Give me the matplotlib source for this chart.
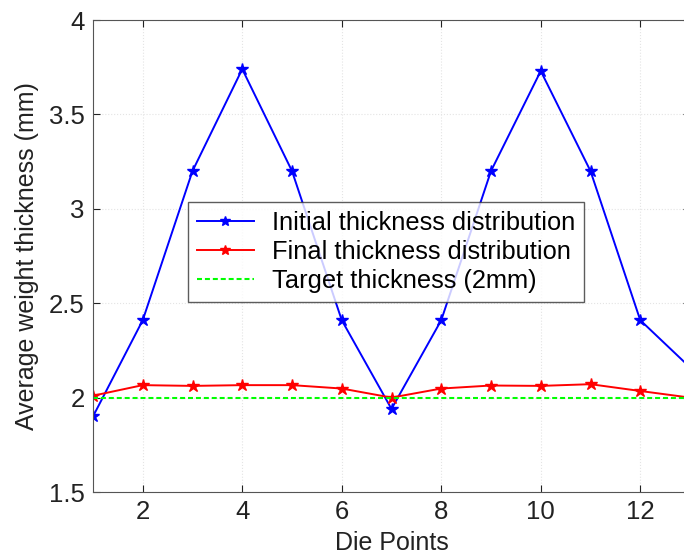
import matplotlib
matplotlib.use("Agg")
import matplotlib.pyplot as plt

plt.rcParams["font.family"] = ["Liberation Sans", "DejaVu Sans"]

die_points = [1, 2, 3, 4, 5, 6, 7, 8, 9, 10, 11, 12, 13]
initial = [1.90, 2.41, 3.20, 3.74, 3.20, 2.41, 1.94, 2.41, 3.20, 3.73, 3.20, 2.41, 2.16]
final = [2.01, 2.066, 2.062, 2.066, 2.066, 2.048, 2.00, 2.048, 2.064, 2.062, 2.071, 2.035, 2.00]
target = [2.0] * len(die_points)

fig = plt.figure(figsize=(6.84, 5.56), dpi=100)
# right edge goes a little past the image, as in the reference
ax = fig.add_axes([93 / 684, 1 - 492 / 556, (690 - 93) / 684, (492 - 20) / 556])

ax.plot(die_points, initial, "-*", color="#0000ff", lw=1.4, ms=9,
        label="Initial thickness distribution")
ax.plot(die_points, final, "-*", color="#ff0000", lw=1.4, ms=9,
        label="Final thickness distribution")
ax.plot(die_points, target, color="#00ff00", lw=1.5, dashes=(2.4, 1.4),
        label="Target thickness (2mm)")

ax.set_xlim(1, 13)
ax.set_ylim(1.5, 4)
ax.set_xticks([2, 4, 6, 8, 10, 12])
ax.set_yticks([1.5, 2, 2.5, 3, 3.5, 4])
ax.set_yticklabels(["1.5", "2", "2.5", "3", "3.5", "4"])
ax.grid(True, linestyle=":", color="#e4e4e4", lw=0.8)
ax.tick_params(direction="in", top=True, right=True, labelsize=18.5,
               colors="#222222", length=5, pad=6)
for s in ax.spines.values():
    s.set_color("#555555")

ax.set_xlabel("Die Points", fontsize=18, color="#222222", labelpad=5)
ax.set_ylabel("Average weight thickness (mm)", fontsize=18, color="#222222")
ax.yaxis.set_label_coords(-0.09, 0.5)

leg = ax.legend(loc="upper left", bbox_to_anchor=((188 - 93) / 597, 1 - (202 - 20) / 472),
                borderaxespad=0, fontsize=18.3, frameon=True, fancybox=False,
                handlelength=2.25, borderpad=0.35, labelspacing=0.2,
                handletextpad=0.7, markerscale=0.8)
leg.get_frame().set_edgecolor("#333333")
leg.get_frame().set_linewidth(1.0)

fig.savefig("out.png", dpi=100)
